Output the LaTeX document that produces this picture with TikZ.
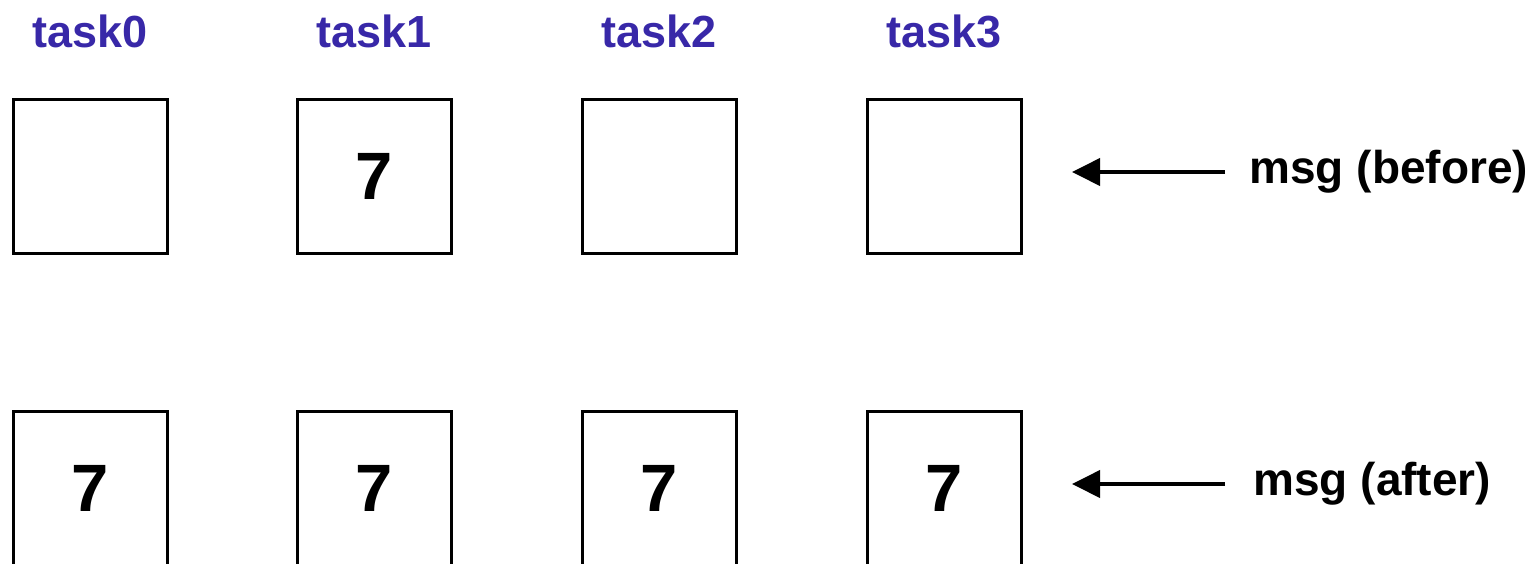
\documentclass[tikz,border=0pt]{standalone}
\usepackage{fontspec}
\setmainfont{Liberation Sans}
\usetikzlibrary{arrows.meta}
\definecolor{bcInk}{HTML}{000000}
\definecolor{bcTask}{HTML}{3828A8}
\tikzset{
 bcast/.style={font=\bfseries,line cap=butt,line join=miter,text=bcInk},
 slot/.style={rectangle,draw=bcInk,fill=white,line width=1.5pt,inner sep=0pt,minimum size=77pt,
   font=\fontsize{33.5}{36}\selectfont\bfseries},
 tasklabel/.style={font=\fontsize{22.5}{26}\selectfont\bfseries,text=bcTask,anchor=base,inner sep=0pt},
 msgnote/.style={font=\fontsize{23}{26}\selectfont\bfseries,anchor=west,inner xsep=12pt,inner ysep=0pt},
 pointer/.style={draw=bcInk,line width=2pt,-{Triangle[length=14pt,width=13.5pt]}}
}

\begin{document}
\begin{tikzpicture}[bcast,x=0.5pt,y=-0.5pt]
 \useasboundingbox (0,0) rectangle (1540,563);
 % column headings
 \node[tasklabel] (t0) at (90,47) {task0}; \node[tasklabel] (t1) at (374,47) {task1};
 \node[tasklabel] (t2) at (659,47) {task2}; \node[tasklabel] (t3) at (944,47) {task3};
 % message buffers before the broadcast
 \node[slot] (b0) at (90,176) {}; \node[slot] (b1) at (374,176) {7};
 \node[slot] (b2) at (659,176) {}; \node[slot] (b3) at (944,176) {};
 % message buffers after the broadcast
 \node[slot] (a0) at (90,488) {7}; \node[slot] (a1) at (374,488) {7};
 \node[slot] (a2) at (659,488) {7}; \node[slot] (a3) at (944,488) {7};
 % row notes
 \node[msgnote] (before) at (1225,172) {msg (before)};
 \node[msgnote,inner xsep=14pt] (after) at (1225,484) {msg (after)};
 \coordinate (inB) at (1072,172); \coordinate (inA) at (1072,484);
 \draw[pointer] (before.west)--(inB);
 \draw[pointer] (after.west)--(inA);
\end{tikzpicture}
\end{document}
